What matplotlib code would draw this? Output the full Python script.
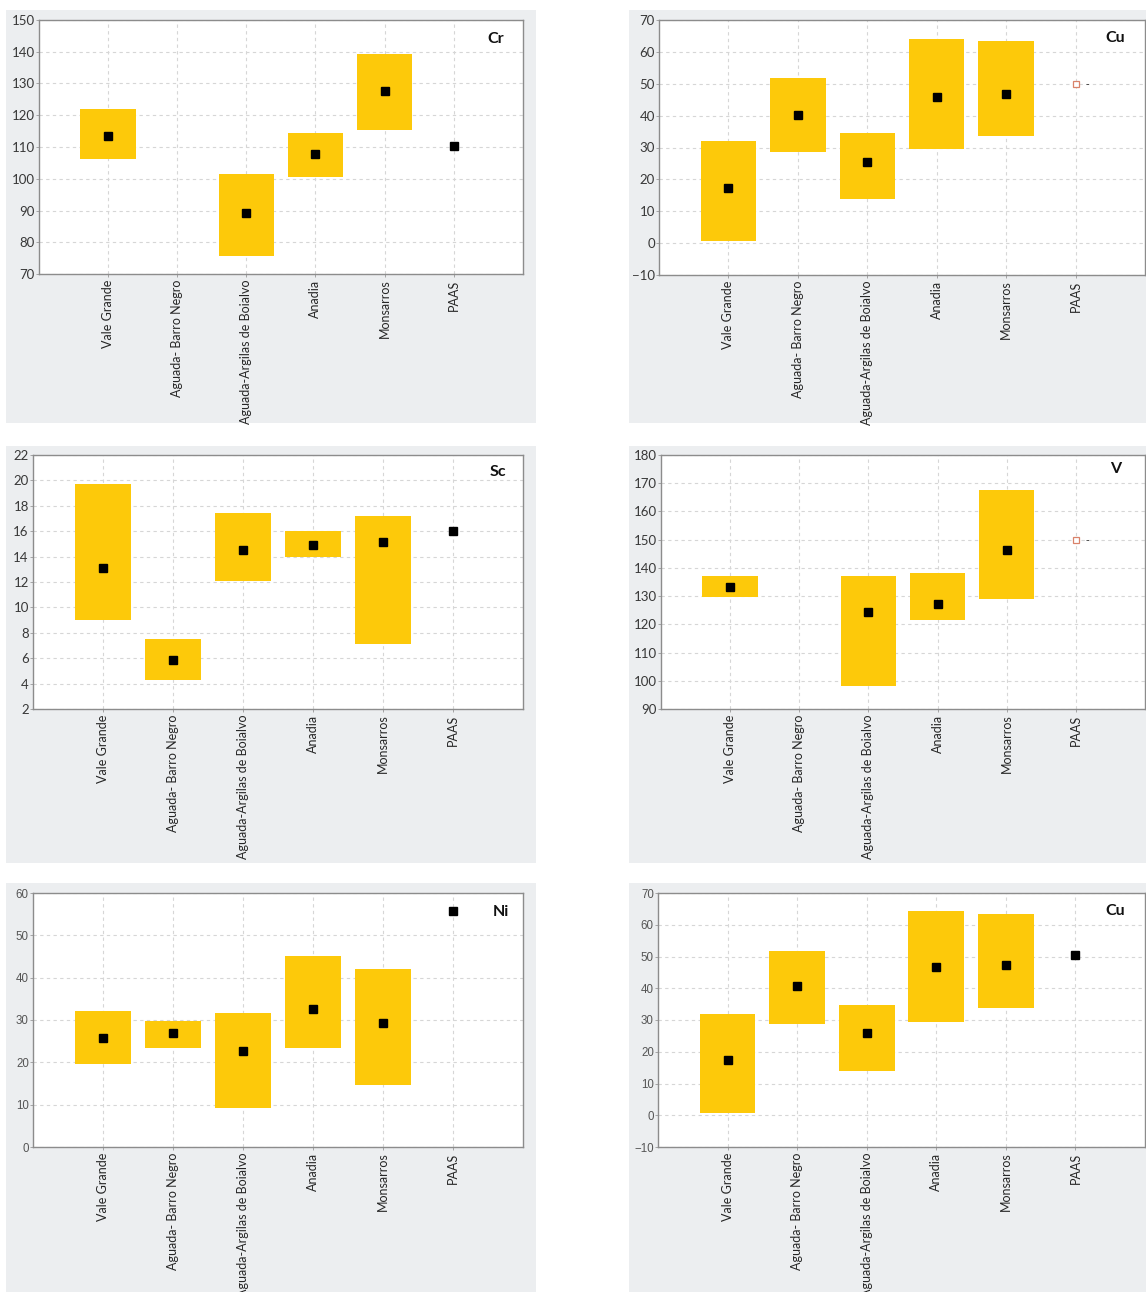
import numpy as np
import matplotlib
matplotlib.use("Agg")
import matplotlib.pyplot as plt
from matplotlib.patches import Rectangle

W, H = 1146, 1292
GOLD = "#FDC90A"
PANEL_BG = "#eceef0"

sites = ["Vale Grande", "Aguada- Barro Negro", "Aguada-Argilas de Boialvo",
         "Anadia", "Monsarros", "PAAS"]
nan = np.nan

# element ranges per site (low / high of the box, mean marker) + PAAS reference
cr_low = [106.3, nan, 75.8, 100.6, 115.3]
cr_high = [122.0, nan, 101.4, 114.5, 139.2]
cr_mean = [113.6, nan, 89.1, 107.9, 127.6]
cr_paas = 110.4

cu_low = [0.8, 28.7, 14.0, 29.6, 33.6]
cu_high = [32.1, 51.8, 34.5, 64.0, 63.3]
cu_mean = [17.2, 40.2, 25.5, 46.0, 46.8]
cu_paas = 50.0

sc_low = [8.97, 4.25, 12.07, 13.93, 7.14]
sc_high = [19.7, 7.53, 17.44, 16.0, 17.2]
sc_mean = [13.1, 5.88, 14.53, 14.95, 15.16]
sc_paas = 16.0

v_low = [129.8, nan, 98.3, 121.4, 128.8]
v_high = [137.2, nan, 137.2, 138.1, 167.7]
v_mean = [133.4, nan, 124.2, 127.1, 146.4]
v_paas = 150.0

ni_low = [19.7, 23.4, 9.1, 23.4, 14.7]
ni_high = [32.2, 29.7, 31.6, 45.2, 42.0]
ni_mean = [25.7, 27.0, 22.7, 32.5, 29.3]
ni_paas = 55.7

cu2_low = [0.6, 28.7, 13.8, 29.5, 33.7]
cu2_high = [32.0, 51.8, 34.6, 64.2, 63.5]
cu2_mean = [17.5, 40.7, 25.9, 46.6, 47.4]
cu2_paas = 50.6


def px_rect(x0, y0, x1, y1):
    return [x0 / W, 1 - y1 / H, (x1 - x0) / W, (y1 - y0) / H]


def panel(fig, bg, box, name, low, high, mean, paas, ylim, step,
          title_pos, hollow=False, tick_font="Lato", tick_color="#383838"):
    fig.add_artist(Rectangle((bg[0] / W, 1 - bg[3] / H), (bg[2] - bg[0]) / W,
                             (bg[3] - bg[1]) / H, transform=fig.transFigure,
                             facecolor=PANEL_BG, edgecolor="none", zorder=0))
    ax = fig.add_axes(px_rect(*box))
    ax.set_facecolor("white")
    x = np.arange(1, 6)
    low, high = np.array(low), np.array(high)
    ok = ~np.isnan(low)
    ax.bar(x[ok], (high - low)[ok], bottom=low[ok], width=0.8, color=GOLD,
           edgecolor="none", zorder=2)
    ax.plot(x, mean, "s", color="black", ms=5.2, zorder=3, ls="none")
    if hollow:
        ax.plot([6], [paas], "s", mfc="white", mec="#d9826a", mew=0.9, ms=5, zorder=3)
        ax.annotate("-", xy=(6, paas), xytext=(7, 0), textcoords="offset points",
                    va="center", ha="left", fontsize=7, color="#333333")
    else:
        ax.plot([6], [paas], "s", color="black", ms=5.2, zorder=3)

    ax.set_xlim(0, 7)
    ax.set_ylim(*ylim)
    ax.set_yticks(np.arange(ylim[0], ylim[1] + step / 2, step))
    ax.set_xticks(np.arange(1, 7))
    ax.set_xticklabels(sites, rotation=90, family="Lato", fontsize=9,
                       color="#262626")
    for lbl in ax.get_yticklabels():
        lbl.set_family(tick_font)
        lbl.set_fontsize(9.5 if tick_font == "Lato" else 8.3)
        lbl.set_color(tick_color)
    ax.tick_params(axis="both", length=2, width=0.6, color="#999999", pad=1)
    ax.tick_params(axis="x", pad=2)
    ax.grid(True, ls=(0, (3, 3)), color="#d6d6d6", lw=0.8, zorder=0)
    ax.set_axisbelow(True)
    for sp in ax.spines.values():
        sp.set_color("#8c8c8c")
        sp.set_linewidth(1.0)
    ax.text(title_pos[0], title_pos[1], name, transform=ax.transAxes,
            ha="center", va="center", fontsize=11.5, fontweight="bold",
            family="Lato", color="#111111")
    return ax


fig = plt.figure(figsize=(W / 100, H / 100), dpi=100)
fig.patch.set_facecolor("white")

panel(fig, (6, 10, 536, 423), (38.7, 20, 523, 274), "Cr",
      cr_low, cr_high, cr_mean, cr_paas, (70, 150), 10, (0.944, 0.925))
panel(fig, (629, 10, 1146, 423), (659, 20, 1145, 275), "Cu",
      cu_low, cu_high, cu_mean, cu_paas, (-10, 70), 10, (0.938, 0.93), hollow=True)
panel(fig, (6, 446, 536, 863), (33, 455, 523, 709), "Sc",
      sc_low, sc_high, sc_mean, sc_paas, (2, 22), 2, (0.949, 0.933))
panel(fig, (629, 446, 1146, 863), (661, 455, 1145, 709), "V",
      v_low, v_high, v_mean, v_paas, (90, 180), 10, (0.94, 0.945), hollow=True)
panel(fig, (6, 883, 536, 1292), (33, 893, 523, 1147), "Ni",
      ni_low, ni_high, ni_mean, ni_paas, (0, 60), 10, (0.955, 0.925),
      tick_font="Liberation Sans", tick_color="#555555")
panel(fig, (629, 883, 1146, 1292), (658, 893, 1145, 1147), "Cu",
      cu2_low, cu2_high, cu2_mean, cu2_paas, (-10, 70), 10, (0.938, 0.93),
      tick_font="Liberation Sans", tick_color="#555555")

fig.savefig("out.png", dpi=100)
